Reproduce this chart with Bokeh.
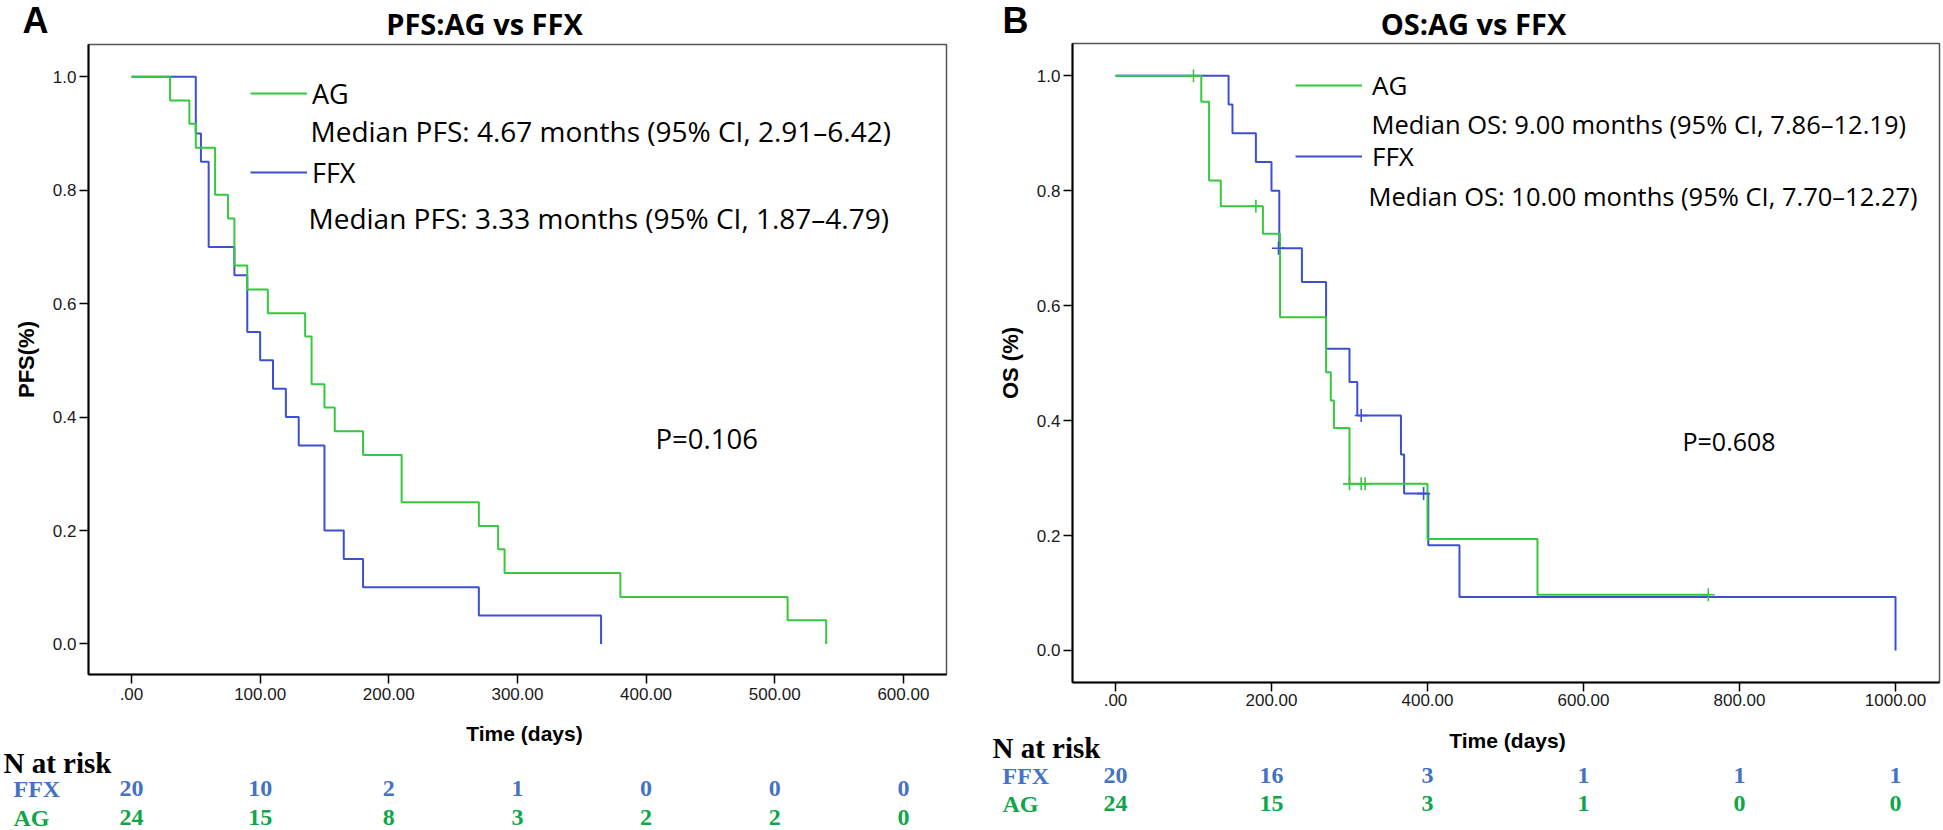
from bokeh.plotting import figure
from bokeh.models import (Range1d, FixedTicker, Label, Legend, LegendItem, Plot)
from bokeh.layouts import row, column
from bokeh.embed import file_html
from bokeh.resources import INLINE
from bokeh.core.properties import value

# ---------------- data ----------------
# PFS (panel A)
pfs_ag_days = [0, 30, 45, 50, 65, 75, 80, 90, 106, 135, 140, 150, 158, 180, 210, 270, 285, 290, 380, 510, 540]
pfs_ag_surv = [1.0, 0.958, 0.917, 0.875, 0.792, 0.750, 0.667, 0.625, 0.583, 0.542, 0.458, 0.417,
               0.375, 0.333, 0.250, 0.208, 0.167, 0.125, 0.083, 0.042, 0.0]
pfs_ffx_days = [0, 50, 54, 60, 80, 90, 100, 110, 120, 130, 150, 165, 180, 270, 365]
pfs_ffx_surv = [1.0, 0.90, 0.85, 0.70, 0.65, 0.55, 0.50, 0.45, 0.40, 0.35, 0.20, 0.15, 0.10, 0.05, 0.0]

# OS (panel B)
os_ag_days = [0, 110, 120, 135, 189, 211, 270, 276, 280, 300, 400, 541, 760]
os_ag_surv = [1.0, 0.955, 0.818, 0.773, 0.725, 0.580, 0.484, 0.435, 0.387, 0.290, 0.194, 0.097, 0.097]
os_ag_cens_days = [100, 180, 300, 315, 320, 760]
os_ag_cens_surv = [1.0, 0.773, 0.290, 0.290, 0.290, 0.097]
os_ffx_days = [0, 145, 150, 180, 200, 210, 239, 270, 300, 310, 366, 370, 401, 441, 1000]
os_ffx_surv = [1.0, 0.95, 0.90, 0.85, 0.80, 0.70, 0.641, 0.525, 0.467, 0.409, 0.341, 0.273, 0.183, 0.093, 0.0]
os_ffx_cens_days = [209, 315, 395]
os_ffx_cens_surv = [0.70, 0.409, 0.273]

# number at risk
pfs_risk_days = [0, 100, 200, 300, 400, 500, 600]
pfs_risk_ffx = [20, 10, 2, 1, 0, 0, 0]
pfs_risk_ag = [24, 15, 8, 3, 2, 2, 0]
os_risk_days = [0, 200, 400, 600, 800, 1000]
os_risk_ffx = [20, 16, 3, 1, 1, 1]
os_risk_ag = [24, 15, 3, 1, 0, 0]

# ticks
y_ticks = [0.0, 0.2, 0.4, 0.6, 0.8, 1.0]
y_tick_labels = ["0.0", "0.2", "0.4", "0.6", "0.8", "1.0"]
pfs_x_ticks = [0, 100, 200, 300, 400, 500, 600]
pfs_x_tick_labels = [".00", "100.00", "200.00", "300.00", "400.00", "500.00", "600.00"]
os_x_ticks = [0, 200, 400, 600, 800, 1000]
os_x_tick_labels = [".00", "200.00", "400.00", "600.00", "800.00", "1000.00"]

# texts
pfs_title = "PFS:AG vs FFX"
os_title = "OS:AG vs FFX"
pfs_median_ag = "Median PFS: 4.67 months (95% CI, 2.91\u20136.42)"
pfs_median_ffx = "Median PFS: 3.33 months (95% CI, 1.87\u20134.79)"
os_median_ag = "Median OS: 9.00 months (95% CI, 7.86\u201312.19)"
os_median_ffx = "Median OS: 10.00 months (95% CI, 7.70\u201312.27)"

GREEN = "#36c840"
BLUE = "#3d50d2"
RISK_BLUE = "#4472c4"
RISK_GREEN = "#0fa64a"
SANS = "Open Sans"
ARIAL = "Liberation Sans"
SERIF = "Liberation Serif"

HEAD_H = 42
MAIN_H = 671
TAB_H = 117

NOALIGN = {"frame_align": False} if "frame_align" in Plot.properties() else {}


def deco(width, height, extra=None):
    d = figure(width=width, height=height, output_backend="svg", toolbar_location=None,
               x_range=Range1d(0, width), y_range=Range1d(height, 0),
               x_axis_location=None, y_axis_location=None,
               min_border_left=0, min_border_right=0, min_border_top=0, min_border_bottom=0,
               **NOALIGN)
    if extra:
        d.extra_x_ranges = extra
    d.grid.visible = False
    d.outline_line_color = None
    d.background_fill_color = "white"
    d.border_fill_color = "white"
    return d


def txt(d, x, y, s, size, font=SANS, style="normal", align="left", color="black", **kw):
    d.text(x=[x], y=[y], text=[s], text_font=value(font), text_font_size=value(size),
           text_font_style=style, text_align=align, text_baseline="middle", text_color=color, **kw)


def make_panel(c):
    W = c["w"]
    # ---------- header ----------
    h = deco(W, HEAD_H)
    txt(h, c["letter_x"], 20, c["letter"], "36px", font=ARIAL, style="bold", align="center")
    txt(h, c["title_x"], 23, c["title"], "29px", style="bold", align="center")

    # ---------- main plot ----------
    p = figure(width=W, height=MAIN_H, output_backend="svg", toolbar_location=None,
               x_range=Range1d(*c["xr"]), y_range=Range1d(*c["yr"]),
               min_border_left=c["ml"], min_border_right=c["mr"],
               min_border_top=c["mt"], min_border_bottom=c["mb"], **NOALIGN)
    p.grid.visible = False
    p.outline_line_color = "#555555"
    p.outline_line_width = 1.5
    p.background_fill_color = "white"
    p.border_fill_color = "white"
    for ax in (p.xaxis, p.yaxis):
        ax.axis_line_color = "black"
        ax.axis_line_width = 2
        ax.major_tick_line_color = "black"
        ax.major_tick_line_width = 1.5
        ax.major_tick_out = 9
        ax.major_tick_in = 0
        ax.minor_tick_line_color = None
        ax.major_label_text_font = ARIAL
        ax.major_label_text_font_size = "17px"
        ax.major_label_text_color = "#1a1a1a"
        ax.axis_label_text_font = ARIAL
        ax.axis_label_text_font_style = "bold"
        ax.axis_label_text_font_size = "22px"
        ax.axis_label_text_color = "black"
    p.xaxis.ticker = FixedTicker(ticks=c["xt"])
    p.xaxis.major_label_overrides = {t: l for t, l in zip(c["xt"], c["xtl"])}
    p.yaxis.ticker = FixedTicker(ticks=y_ticks)
    p.yaxis.major_label_overrides = {t: l for t, l in zip(y_ticks, y_tick_labels)}
    p.yaxis.axis_label = c["ylabel"]
    p.xaxis.major_label_standoff = c["xstand"]
    p.yaxis.major_label_standoff = 3
    p.yaxis.axis_label_standoff = 11

    r_ffx = p.step(c["ffx_x"], c["ffx_y"], mode="after", line_color=BLUE, line_width=2)
    r_ag = p.step(c["ag_x"], c["ag_y"], mode="after", line_color=GREEN, line_width=2)
    if c.get("ffx_cx"):
        p.scatter(c["ffx_cx"], c["ffx_cy"], marker="cross", size=13, line_color=BLUE, line_width=1.6)
    if c.get("ag_cx"):
        p.scatter(c["ag_cx"], c["ag_cy"], marker="cross", size=13, line_color=GREEN, line_width=1.6)

    lg = Legend(items=[LegendItem(label="AG", renderers=[r_ag]),
                       LegendItem(label="FFX", renderers=[r_ffx])],
                location=c["leg_loc"], orientation="vertical",
                border_line_color=None, background_fill_alpha=0,
                padding=0, margin=0, spacing=c["leg_sp"],
                glyph_width=c["leg_gw"], glyph_height=38, label_height=38,
                label_standoff=c["leg_so"],
                label_text_font=SANS, label_text_font_size=c["leg_fs"],
                label_text_color="black")
    p.add_layout(lg)

    for (x, y), s in ((c["med1_xy"], c["med1"]), (c["med2_xy"], c["med2"])):
        p.add_layout(Label(x=x, y=y, x_units="screen", y_units="screen", text=s,
                           text_font=SANS, text_font_size=c["med_fs"], text_align="left",
                           text_baseline="middle", text_color="black"))
    p.add_layout(Label(x=c["p_xy"][0], y=c["p_xy"][1], x_units="screen", y_units="screen",
                       text=c["ptxt"], text_font=SANS, text_font_size=c["p_fs"], text_align="left",
                       text_baseline="middle", text_color="black"))

    # ---------- number-at-risk table ----------
    ppd = (W - c["ml"] - c["mr"]) / (c["xr"][1] - c["xr"][0])
    d0 = c["xr"][0] - c["ml"] / ppd
    d1 = c["xr"][1] + c["mr"] / ppd
    t = deco(W, TAB_H, extra={"days": Range1d(d0, d1)})
    txt(t, c["time_xy"][0], c["time_xy"][1], "Time (days)", "21px", font=ARIAL, style="bold", align="center")
    txt(t, c["nrisk_xy"][0], c["nrisk_xy"][1], "N at risk", "29px", font=SERIF, style="bold")
    txt(t, c["grp_x"], c["ffx_row"], "FFX", "24px", font=SERIF, style="bold", color=RISK_BLUE)
    txt(t, c["grp_x"], c["ag_row"], "AG", "24px", font=SERIF, style="bold", color=RISK_GREEN)
    for vals, yrow, col in ((c["risk_ffx"], c["ffx_row"], RISK_BLUE),
                            (c["risk_ag"], c["ag_row"], RISK_GREEN)):
        t.text(x=c["risk_days"], y=[yrow] * len(vals), text=[str(v) for v in vals],
               x_range_name="days", text_font=value(SERIF), text_font_size=value("24px"),
               text_font_style="bold", text_color=col, text_align="center", text_baseline="middle")

    return column(h, p, t, spacing=0)


cfgA = dict(w=960, xr=(-33.4, 633.5), yr=(-0.0538, 1.0568), ml=88, mr=14, mt=2, mb=39, xstand=4,
            xt=pfs_x_ticks, xtl=pfs_x_tick_labels, ylabel="PFS(%)",
            ag_x=pfs_ag_days, ag_y=pfs_ag_surv, ffx_x=pfs_ffx_days, ffx_y=pfs_ffx_surv,
            leg_loc=(162, 483), leg_sp=41, leg_gw=57, leg_so=5, leg_fs="27px",
            letter="A", letter_x=35, title=pfs_title, title_x=484,
            med1=pfs_median_ag, med1_xy=(222, 544), med2=pfs_median_ffx, med2_xy=(220, 457),
            med_fs="28px", ptxt="P=0.106", p_xy=(567, 236), p_fs="27.5px",
            time_xy=(524, 20), nrisk_xy=(3, 49), grp_x=13, ffx_row=75, ag_row=104,
            risk_days=pfs_risk_days, risk_ffx=pfs_risk_ffx, risk_ag=pfs_risk_ag)

cfgB = dict(w=983, xr=(-55.1, 1056.4), yr=(-0.0557, 1.0562), ml=112, mr=4, mt=1, mb=31, xstand=2,
            xt=os_x_ticks, xtl=os_x_tick_labels, ylabel="OS (%)",
            ag_x=os_ag_days, ag_y=os_ag_surv, ffx_x=os_ffx_days, ffx_y=os_ffx_surv,
            ag_cx=os_ag_cens_days, ag_cy=os_ag_cens_surv,
            ffx_cx=os_ffx_cens_days, ffx_cy=os_ffx_cens_surv,
            leg_loc=(223, 507), leg_sp=33, leg_gw=67, leg_so=10, leg_fs="26px",
            letter="B", letter_x=55, title=os_title, title_x=513,
            med1=os_median_ag, med1_xy=(299, 559), med2=os_median_ffx, med2_xy=(296, 487),
            med_fs="25.5px", ptxt="P=0.608", p_xy=(610, 242), p_fs="25px",
            time_xy=(547, 27), nrisk_xy=(32, 34), grp_x=42, ffx_row=62, ag_row=90,
            risk_days=os_risk_days, risk_ffx=os_risk_ffx, risk_ag=os_risk_ag)

layout = row(make_panel(cfgA), make_panel(cfgB), spacing=0)

open("out.html", "w").write(file_html(layout, INLINE))
